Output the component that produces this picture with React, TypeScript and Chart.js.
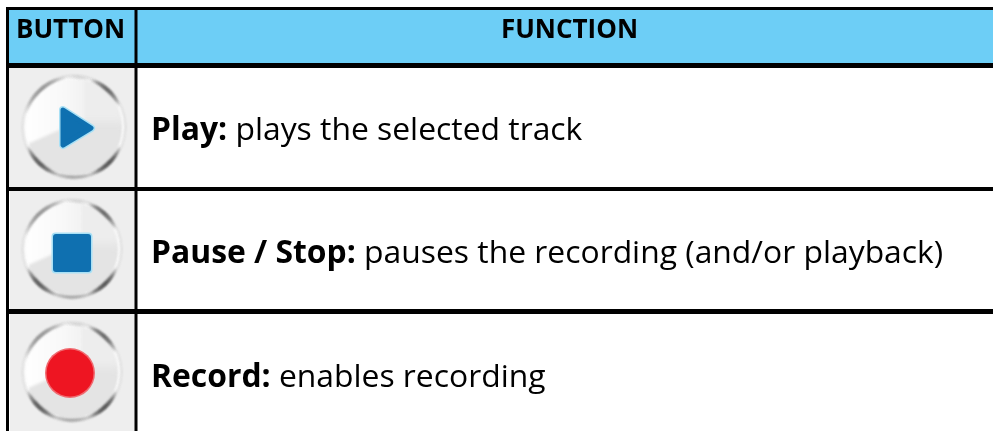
import React, { useEffect, useRef } from "react";
import { Chart, registerables } from "chart.js";

Chart.register(...registerables);

const WIDTH = 993;
const HEIGHT = 431;

// Table content
const headers = ["BUTTON", "FUNCTION"];
const headerCentres = [70.5, 569.5];
const buttonNames = ["Play:", "Pause / Stop:", "Record:"];
const buttonDescriptions = ["plays the selected track", "pauses the recording (and/or playback)", "enables recording"];
const buttonGlyphs = ["play", "stop", "record"];
const buttonX = [74, 72, 72];
const buttonY = [127, 249, 372];
const buttonRadius = [52, 50, 50];
const rowBaselines = [140, 263, 387];

// Table rules, in table units
const ruleY = [8.5, 65.5, 189, 311.5];
const ruleYWidth = [3, 5, 4, 5];
const ruleX = [7.5, 136];
const ruleXWidth = [3, 3];

const FONT = '"Open Sans", sans-serif';

function makeIcon(kind: string, r: number): HTMLCanvasElement {
  const size = r * 2 + 12;
  const c = document.createElement("canvas");
  c.width = size;
  c.height = size;
  const g = c.getContext("2d")!;
  const m = size / 2;
  g.translate(m, m);
  // disc
  g.filter = "blur(1px)";
  g.beginPath();
  g.arc(0, 0, r - 2, 0, Math.PI * 2);
  g.fillStyle = "#e4e4e4";
  g.fill();
  // soft upper right
  g.save();
  g.beginPath();
  g.arc(0, 0, r - 3, 0, Math.PI * 2);
  g.clip();
  g.filter = "blur(5px)";
  g.fillStyle = "#ededed";
  g.beginPath();
  g.moveTo(0, -r * 0.1);
  g.lineTo(r, -r * 0.1);
  g.lineTo(r, -r);
  g.lineTo(0, -r);
  g.closePath();
  g.fill();
  // lit wedge, upper left
  g.filter = "blur(1.6px)";
  const lit = g.createLinearGradient(-r, 0, r * 0.4, 0);
  lit.addColorStop(0, "#ffffff");
  lit.addColorStop(0.6, "#f8f8f8");
  lit.addColorStop(1, "#eeeeee");
  g.fillStyle = lit;
  g.beginPath();
  g.moveTo(-r * 1.1, r * 0.42);
  g.lineTo(-r * 0.2, r * 0.02);
  g.lineTo(r * 0.2, -r * 0.15);
  g.lineTo(r * 0.2, -r * 1.1);
  g.lineTo(-r * 1.1, -r * 1.1);
  g.closePath();
  g.fill();
  g.restore();
  // rim
  g.filter = "blur(0.9px)";
  g.beginPath();
  g.arc(0, 0, r - 2.5, 0, Math.PI * 2);
  g.strokeStyle = "#fafafa";
  g.lineWidth = 3;
  g.stroke();
  g.beginPath();
  g.arc(0, 0, r - 0.5, 0, Math.PI * 2);
  g.strokeStyle = "rgba(175,175,175,0.55)";
  g.lineWidth = 1;
  g.stroke();
  // shaded arcs of the rim, tapered at both ends
  const arc = (from: number, to: number, shade: number, w: number) => {
    const steps = 24;
    for (let i = 0; i < steps; i++) {
      const t = (i + 0.5) / steps;
      const a0 = ((from + ((to - from) * i) / steps) * Math.PI) / 180;
      const a1 = ((from + ((to - from) * (i + 1.3)) / steps) * Math.PI) / 180;
      g.beginPath();
      g.arc(0, 0, r - 2, a0, a1);
      g.strokeStyle = `rgba(${shade},${shade},${shade},${Math.sin(Math.PI * t) * 0.95})`;
      g.lineWidth = w * (0.45 + 0.55 * Math.sin(Math.PI * t));
      g.stroke();
    }
  };
  arc(195, 262, 130, 3);
  arc(262, 290, 205, 2.2);
  arc(288, 335, 70, 3.4);
  arc(22, 72, 50, 3.6);
  arc(60, 120, 150, 2.6);
  arc(108, 158, 60, 3.6);
  // glyph
  g.filter = "blur(0.5px)";
  g.lineJoin = "round";
  if (kind === "play") {
    const tri = () => {
      g.beginPath();
      g.moveTo(-11, -17);
      g.lineTo(17, 1);
      g.lineTo(-11, 18);
      g.closePath();
    };
    tri();
    g.strokeStyle = "#a8e0f5";
    g.lineWidth = 8;
    g.stroke();
    tri();
    g.fillStyle = "#0f70b0";
    g.strokeStyle = "#0f70b0";
    g.lineWidth = 5;
    g.fill();
    g.stroke();
  } else if (kind === "stop") {
    g.beginPath();
    g.roundRect(-20.5, -16.5, 41, 41, 4);
    g.fillStyle = "#a8e0f5";
    g.fill();
    g.beginPath();
    g.roundRect(-19, -15, 38, 38, 3);
    g.fillStyle = "#0f70b0";
    g.fill();
  } else {
    g.beginPath();
    g.arc(-2, 1, 25, 0, Math.PI * 2);
    g.fillStyle = "#f06a70";
    g.fill();
    g.beginPath();
    g.arc(-2, 1, 23.5, 0, Math.PI * 2);
    g.fillStyle = "#ee1522";
    g.fill();
  }
  return c;
}

const tablePlugin = {
  id: "tableCells",
  beforeDatasetsDraw(chart: any) {
    const { ctx, scales } = chart;
    const X = (v: number) => scales.x.getPixelForValue(v);
    const Y = (v: number) => scales.y.getPixelForValue(v);
    const rect = (x0: number, y0: number, x1: number, y1: number, colour: string) => {
      ctx.fillStyle = colour;
      ctx.fillRect(X(x0), Y(y0), X(x1) - X(x0), Y(y1) - Y(y0));
    };
    rect(ruleX[0], ruleY[0], WIDTH, ruleY[1], "#6dcef6");
    rect(ruleX[0], ruleY[1], ruleX[1], ruleY[2], "#eeeeee");
    rect(10, ruleY[2], ruleX[1], ruleY[3], "#eeeeee");
    rect(10, ruleY[3], ruleX[1], HEIGHT, "#eeeeee");
  },
  afterDatasetsDraw(chart: any) {
    const { ctx, scales } = chart;
    const X = (v: number) => scales.x.getPixelForValue(v);
    const Y = (v: number) => scales.y.getPixelForValue(v);
    ctx.save();
    ctx.fillStyle = "#000000";
    ctx.textBaseline = "alphabetic";
    ctx.textAlign = "center";
    ctx.font = `700 26px ${FONT}`;
    headers.forEach((h, i) => ctx.fillText(h, X(headerCentres[i]), Y(38)));
    ctx.textAlign = "left";
    buttonNames.forEach((name, i) => {
      ctx.font = `700 31.85px ${FONT}`;
      ctx.fillText(name, X(151), Y(rowBaselines[i]));
      const w = ctx.measureText(name + " ").width;
      ctx.font = `400 31.85px ${FONT}`;
      ctx.fillText(buttonDescriptions[i], X(151) + w, Y(rowBaselines[i]));
    });
    ctx.restore();
  },
};

export default function App() {
  const ref = useRef<HTMLCanvasElement>(null);
  useEffect(() => {
    const icons = buttonGlyphs.map((k, i) => makeIcon(k, buttonRadius[i]));
    const rules: any[] = [
      ...ruleY.map((y, i) => ({
        type: "line",
        data: [{ x: ruleX[0] - ruleXWidth[0] / 2, y }, { x: WIDTH, y }],
        borderColor: "#000000",
        borderWidth: ruleYWidth[i],
        pointRadius: 0,
        order: 2,
      })),
      ...ruleX.map((x, i) => ({
        type: "line",
        data: [{ x, y: ruleY[0] }, { x, y: HEIGHT }],
        borderColor: "#000000",
        borderWidth: ruleXWidth[i],
        pointRadius: 0,
        order: 2,
      })),
    ];
    const chart = new Chart(ref.current!, {
      type: "scatter",
      data: {
        datasets: [
          {
            label: "Buttons",
            data: buttonX.map((x, i) => ({ x, y: buttonY[i] })),
            pointStyle: icons,
            pointRadius: 10,
            order: 1,
          } as any,
          ...rules,
        ],
      },
      options: {
        animation: false,
        responsive: false,
        layout: { padding: 0, autoPadding: false },
        plugins: { legend: { display: false }, tooltip: { enabled: false }, title: { display: false } },
        scales: {
          x: { type: "linear", min: 0, max: WIDTH, display: false },
          y: { type: "linear", min: 0, max: HEIGHT, reverse: true, display: false },
        },
      },
      plugins: [tablePlugin],
    } as any);
    return () => chart.destroy();
  }, []);
  return (
    <div style={{ position: "absolute", left: 0, top: 0, width: WIDTH, height: HEIGHT, background: "#fff" }}>
      <canvas ref={ref} width={WIDTH} height={HEIGHT} style={{ display: "block" }} />
    </div>
  );
}
